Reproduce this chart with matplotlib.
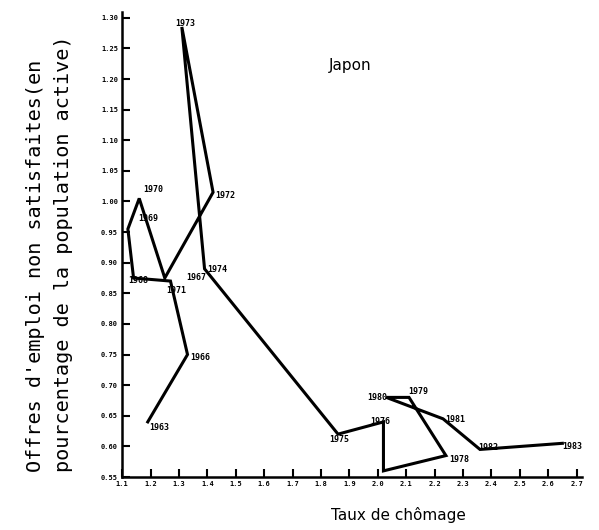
import matplotlib.pyplot as plt

# Japon : taux de chômage / offres d'emploi non satisfaites
annees = ['1963', '1966', '1967', '1968', '1969', '1970', '1971', '1972', '1973', '1974',
          '1975', '1976', '1977', '1978', '1979', '1980', '1981', '1982', '1983']
chomage = [1.19, 1.33, 1.27, 1.14, 1.12, 1.16, 1.25, 1.42, 1.31, 1.39,
           1.86, 2.02, 2.02, 2.24, 2.11, 2.03, 2.23, 2.36, 2.65]
offres = [0.64, 0.75, 0.87, 0.875, 0.955, 1.005, 0.875, 1.015, 1.285, 0.89,
          0.62, 0.64, 0.56, 0.585, 0.68, 0.68, 0.645, 0.595, 0.605]

x_ticks = [1.1 + 0.1 * i for i in range(17)]
y_ticks = [0.55 + 0.05 * i for i in range(16)]

# decalage des etiquettes (pixels) : dx, dy, alignement
decal = {
    '1963': (1, -6, 'left'), '1966': (3, -3, 'left'), '1967': (16, 4, 'left'),
    '1968': (-5, -2, 'left'), '1969': (10, 11, 'left'), '1970': (4, 9, 'left'),
    '1971': (1, -12, 'left'), '1972': (2, -3, 'left'), '1973': (-7, 3, 'left'),
    '1974': (3, -1, 'left'), '1975': (-9, -5, 'left'), '1976': (-13, 0, 'left'),
    '1978': (3, -4, 'left'), '1979': (-1, 6, 'left'), '1980': (1, 0, 'right'),
    '1981': (2, -1, 'left'), '1982': (-2, 2, 'left'), '1983': (0, -3, 'left'),
}

plt.rcParams['font.family'] = ['DejaVu Sans Mono', 'DejaVu Sans']

fig = plt.figure(figsize=(5.99, 5.30), dpi=100)
ax = fig.add_axes([0.204, 0.100, 0.768, 0.878])

ax.plot(chomage, offres, color='black', linewidth=2.2, solid_joinstyle='miter')

for an, x, y in zip(annees, chomage, offres):
    if an not in decal:
        continue
    dx, dy, ha = decal[an]
    ax.annotate(an, (x, y), xytext=(dx, dy), textcoords='offset pixels',
                ha=ha, va='center', fontsize=6, fontweight='bold')

ax.set_xlim(1.1, 2.72)
ax.set_ylim(0.55, 1.31)
ax.set_xticks(x_ticks)
ax.set_xticklabels([f'{v:.1f}' for v in x_ticks])
ax.set_yticks(y_ticks)
ax.set_yticklabels([f'{v:.2f}' for v in y_ticks])
ax.tick_params(axis='both', direction='in', length=6, width=1.5, labelsize=5, pad=3)
for lab in ax.get_xticklabels() + ax.get_yticklabels():
    lab.set_fontweight('bold')

for s in ['top', 'right']:
    ax.spines[s].set_visible(False)
for s in ['left', 'bottom']:
    ax.spines[s].set_linewidth(1.8)

ax.text(0.45, 0.875, 'Japon', transform=ax.transAxes, fontsize=11,
        family=['DejaVu Sans', 'DejaVu Sans Mono'])
ax.set_xlabel('Taux de chômage', fontsize=11,
              family=['DejaVu Sans', 'DejaVu Sans Mono'])
ax.xaxis.set_label_coords(0.6, -0.065)
ax.set_ylabel("Offres d'emploi non satisfaites(en\npourcentage de la population active)",
              fontsize=14.5, linespacing=1.55, multialignment='left')
ax.yaxis.set_label_coords(-0.108, 0.48)

fig.savefig('out.png', dpi=100)
